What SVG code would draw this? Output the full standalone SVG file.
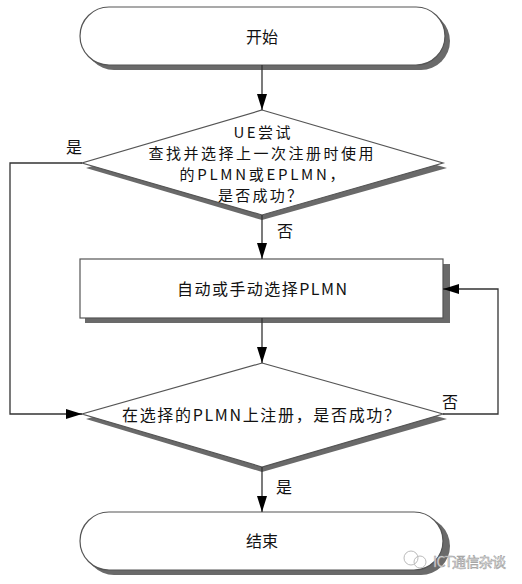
<svg xmlns="http://www.w3.org/2000/svg" width="522" height="584" viewBox="0 0 522 584">
<defs>
<style>
.shape{fill:#fff;stroke:#555;stroke-width:1.2}
.shadow{fill:#6a6a6a}
.conn{fill:none;stroke:#333;stroke-width:1.3}
text{font-family:"Microsoft YaHei","Noto Sans CJK SC",sans-serif;font-size:16px;fill:#111;dominant-baseline:central}
.c{text-anchor:middle}
.s{font-size:15px}
.wm{font-size:14px;fill:#e8e8e8;stroke:#999;stroke-width:0.5}
</style>
<marker id="arr" viewBox="0 0 16 10" refX="16" refY="5" markerWidth="16" markerHeight="10" markerUnits="userSpaceOnUse" orient="auto">
<path d="M0,0 L16,5 L0,10 Z" fill="#000"/>
</marker>
</defs>
<rect width="522" height="584" fill="#fff"/>

<g id="start">
<rect class="shadow" x="85" y="12" width="365" height="58" rx="29"/>
<rect class="shape" x="80" y="7" width="365" height="58" rx="29"/>
<text class="c" x="262" y="36">开始</text>
</g>

<g id="decision1">
<polygon class="shadow" points="262,115 447,168 262,220 86,168"/>
<polygon class="shape" points="262,110 443,163 262,215 82,163"/>
<text class="c s" x="262" y="131" textLength="57">UE尝试</text>
<text class="c s" x="261" y="152" textLength="225">查找并选择上一次注册时使用</text>
<text class="c s" x="262" y="173" textLength="165">的PLMN或EPLMN，</text>
<text class="c s" x="260" y="194" textLength="84">是否成功？</text>
</g>

<g id="select">
<rect class="shadow" x="85" y="264" width="365" height="59"/>
<rect class="shape" x="80" y="259" width="363" height="59"/>
<text class="c" x="262" y="288" textLength="170">自动或手动选择PLMN</text>
</g>

<g id="decision2">
<polygon class="shadow" points="262,368 447,419 262,472 86,419"/>
<polygon class="shape" points="262,363 443,414 262,467 82,414"/>
<text class="c" x="261" y="414" textLength="278">在选择的PLMN上注册，是否成功？</text>
</g>

<g id="end">
<rect class="shadow" x="85" y="517" width="365" height="58" rx="29"/>
<rect class="shape" x="80" y="512" width="363" height="58" rx="29"/>
<text class="c" x="262" y="540">结束</text>
</g>

<g id="connectors">
<line class="conn" x1="262" y1="65" x2="262" y2="110" marker-end="url(#arr)"/>
<line class="conn" x1="262" y1="215" x2="262" y2="259" marker-end="url(#arr)"/>
<line class="conn" x1="262" y1="318" x2="262" y2="363" marker-end="url(#arr)"/>
<line class="conn" x1="262" y1="467" x2="262" y2="512" marker-end="url(#arr)"/>
<polyline class="conn" points="82,163 10,163 10,414 82,414" marker-end="url(#arr)"/>
<polyline class="conn" points="443,414 498,414 498,289 443,289" marker-end="url(#arr)"/>
<text x="66" y="146">是</text>
<text x="277" y="230">否</text>
<text x="442" y="401">否</text>
<text x="276" y="486">是</text>
</g>

<g id="watermark">
<circle cx="411" cy="558" r="7" fill="none" stroke="#bbb" stroke-width="1"/>
<circle cx="420" cy="562" r="6" fill="none" stroke="#bbb" stroke-width="1"/>
<text class="wm" x="433" y="561" textLength="73">ICT通信杂谈</text>
</g>
</svg>
